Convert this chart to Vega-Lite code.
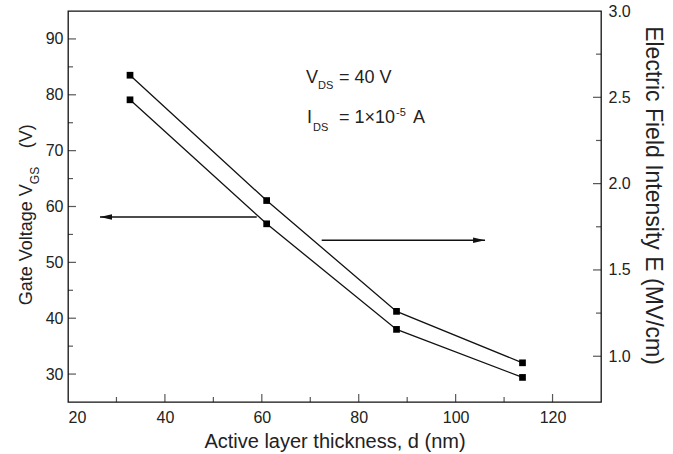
{
  "$schema": "https://vega.github.io/schema/vega-lite/v6.json",
  "width": 533,
  "height": 391,
  "autosize": {"type": "none"},
  "padding": {"left": 68, "top": 11, "right": 72, "bottom": 52},
  "background": "white",
  "config": {
    "font": "Liberation Sans",
    "view": {"stroke": "#111", "strokeWidth": 1.3},
    "axis": {
      "labelFont": "Liberation Sans", "labelFontSize": 16, "labelColor": "#222",
      "titleFont": "Liberation Sans", "titleFontSize": 20, "titleFontWeight": "normal", "titleColor": "#222",
      "ticks": false, "tickSize": 0, "domain": false, "grid": false
    },
    "text": {"font": "Liberation Sans"}
  },
  "datasets": {
    "V": [{"x": 32.8, "y": 79.1}, {"x": 61.0, "y": 56.9}, {"x": 87.8, "y": 38.0}, {"x": 113.8, "y": 29.4}],
    "E": [{"x": 32.8, "y": 2.628}, {"x": 61.0, "y": 1.902}, {"x": 87.8, "y": 1.26}, {"x": 113.8, "y": 0.962}],
    "xMajor": [{"x": 40, "y": 25}, {"x": 60, "y": 25}, {"x": 80, "y": 25}, {"x": 100, "y": 25}, {"x": 120, "y": 25}],
    "xMinor": [{"x": 30, "y": 25}, {"x": 50, "y": 25}, {"x": 70, "y": 25}, {"x": 90, "y": 25}, {"x": 110, "y": 25}],
    "lMajor": [{"x": 20, "y": 30}, {"x": 20, "y": 40}, {"x": 20, "y": 50}, {"x": 20, "y": 60}, {"x": 20, "y": 70}, {"x": 20, "y": 80}, {"x": 20, "y": 90}],
    "lMinor": [{"x": 20, "y": 35}, {"x": 20, "y": 45}, {"x": 20, "y": 55}, {"x": 20, "y": 65}, {"x": 20, "y": 75}, {"x": 20, "y": 85}],
    "rMajor": [{"x": 130, "y": 1.0}, {"x": 130, "y": 1.5}, {"x": 130, "y": 2.0}, {"x": 130, "y": 2.5}],
    "rMinor": [{"x": 130, "y": 1.25}, {"x": 130, "y": 1.75}, {"x": 130, "y": 2.25}, {"x": 130, "y": 2.75}],
    "arrows": [{"x": 26.6, "x2": 58.95, "y": 58.12}, {"x": 72.36, "x2": 106.07, "y": 53.95}],
    "heads": [{"x": 27.84, "y": 58.12, "dir": "left"}, {"x": 104.83, "y": 53.95, "dir": "right"}],
    "annBig": [
      {"x": 69.12, "y": 82.06, "t": "V"},
      {"x": 75.93, "y": 82.06, "t": "= 40 V"},
      {"x": 69.33, "y": 74.9, "t": "I"},
      {"x": 75.93, "y": 74.9, "t": "= 1×10"},
      {"x": 91.2, "y": 74.9, "t": "A"}
    ],
    "annSmall": [
      {"x": 71.6, "y": 80.98, "t": "DS"},
      {"x": 70.56, "y": 73.46, "t": "DS"},
      {"x": 87.7, "y": 76.15, "t": "-5"}
    ],
    "ltitle": [{"x": 12.47, "y": 42.31, "t": "Gate Voltage V"}, {"x": 12.47, "y": 70.42, "t": "(V)"}],
    "ltitleSub": [{"x": 14.01, "y": 64.0, "t": "GS"}]
  },
  "encoding": {
    "x": {
      "field": "x", "type": "quantitative",
      "scale": {"domain": [20, 130], "nice": false, "zero": false},
      "axis": {"values": [20, 40, 60, 80, 100, 120], "title": "Active layer thickness, d (nm)", "labelPadding": 7, "titlePadding": 6}
    }
  },
  "layer": [
    {
      "data": {"name": "V"},
      "mark": {"type": "line", "color": "#111", "strokeWidth": 1.3, "point": {"shape": "square", "size": 45, "filled": true, "color": "#000", "opacity": 1}},
      "encoding": {
        "y": {"field": "y", "type": "quantitative", "scale": {"domain": [25, 95], "nice": false, "zero": false},
          "axis": {"orient": "left", "values": [30, 40, 50, 60, 70, 80, 90], "title": null, "labelPadding": 5}}
      }
    },
    {
      "data": {"name": "E"},
      "mark": {"type": "line", "color": "#111", "strokeWidth": 1.3, "point": {"shape": "square", "size": 45, "filled": true, "color": "#000", "opacity": 1}},
      "encoding": {
        "y": {"field": "y", "type": "quantitative", "scale": {"domain": [0.735, 3.0], "nice": false, "zero": false},
          "axis": {"orient": "right", "values": [1.0, 1.5, 2.0, 2.5, 3.0], "format": ".1f", "title": "Electric Field Intensity E (MV/cm)", "titleAngle": 90, "titleFontSize": 23, "titleY": 184, "labelPadding": 7, "titlePadding": 10}}
      }
    },
    {
      "data": {"name": "xMajor"},
      "mark": {"type": "tick", "orient": "vertical", "size": 16, "thickness": 1.2, "color": "#111", "clip": true},
      "encoding": {"y": {"field": "y", "type": "quantitative", "scale": {"domain": [25, 95], "nice": false, "zero": false}, "axis": null}}
    },
    {
      "data": {"name": "xMinor"},
      "mark": {"type": "tick", "orient": "vertical", "size": 10, "thickness": 1.2, "color": "#111", "clip": true},
      "encoding": {"y": {"field": "y", "type": "quantitative", "scale": {"domain": [25, 95], "nice": false, "zero": false}, "axis": null}}
    },
    {
      "data": {"name": "lMajor"},
      "mark": {"type": "tick", "orient": "horizontal", "size": 16, "thickness": 1.2, "color": "#111", "clip": true},
      "encoding": {"y": {"field": "y", "type": "quantitative", "scale": {"domain": [25, 95], "nice": false, "zero": false}, "axis": null}}
    },
    {
      "data": {"name": "lMinor"},
      "mark": {"type": "tick", "orient": "horizontal", "size": 10, "thickness": 1.2, "color": "#111", "clip": true},
      "encoding": {"y": {"field": "y", "type": "quantitative", "scale": {"domain": [25, 95], "nice": false, "zero": false}, "axis": null}}
    },
    {
      "data": {"name": "rMajor"},
      "mark": {"type": "tick", "orient": "horizontal", "size": 16, "thickness": 1.2, "color": "#111", "clip": true},
      "encoding": {"y": {"field": "y", "type": "quantitative", "scale": {"domain": [0.735, 3.0], "nice": false, "zero": false}, "axis": null}}
    },
    {
      "data": {"name": "rMinor"},
      "mark": {"type": "tick", "orient": "horizontal", "size": 10, "thickness": 1.2, "color": "#111", "clip": true},
      "encoding": {"y": {"field": "y", "type": "quantitative", "scale": {"domain": [0.735, 3.0], "nice": false, "zero": false}, "axis": null}}
    },
    {
      "data": {"name": "arrows"},
      "mark": {"type": "rule", "color": "#111", "strokeWidth": 1.4},
      "encoding": {
        "x2": {"field": "x2"},
        "y": {"field": "y", "type": "quantitative", "scale": {"domain": [25, 95], "nice": false, "zero": false}, "axis": null}
      }
    },
    {
      "data": {"name": "heads"},
      "mark": {"type": "point", "filled": true, "color": "#111", "opacity": 1, "size": 144, "strokeWidth": 0},
      "encoding": {
        "y": {"field": "y", "type": "quantitative", "scale": {"domain": [25, 95], "nice": false, "zero": false}, "axis": null},
        "shape": {"field": "dir", "type": "nominal", "scale": {"domain": ["left", "right"], "range": ["M-1,0L1,-0.45L1,0.45Z", "M1,0L-1,-0.45L-1,0.45Z"]}, "legend": null}
      }
    },
    {
      "data": {"name": "annBig"},
      "mark": {"type": "text", "fontSize": 18, "align": "left", "baseline": "alphabetic", "color": "#222"},
      "encoding": {
        "y": {"field": "y", "type": "quantitative", "scale": {"domain": [25, 95], "nice": false, "zero": false}, "axis": null},
        "text": {"field": "t"}
      }
    },
    {
      "data": {"name": "annSmall"},
      "mark": {"type": "text", "fontSize": 11, "align": "left", "baseline": "alphabetic", "color": "#222"},
      "encoding": {
        "y": {"field": "y", "type": "quantitative", "scale": {"domain": [25, 95], "nice": false, "zero": false}, "axis": null},
        "text": {"field": "t"}
      }
    },
    {
      "data": {"name": "ltitle"},
      "mark": {"type": "text", "fontSize": 18, "align": "left", "baseline": "alphabetic", "angle": 270, "color": "#222"},
      "encoding": {
        "y": {"field": "y", "type": "quantitative", "scale": {"domain": [25, 95], "nice": false, "zero": false}, "axis": null},
        "text": {"field": "t"}
      }
    },
    {
      "data": {"name": "ltitleSub"},
      "mark": {"type": "text", "fontSize": 12, "align": "left", "baseline": "alphabetic", "angle": 270, "color": "#222"},
      "encoding": {
        "y": {"field": "y", "type": "quantitative", "scale": {"domain": [25, 95], "nice": false, "zero": false}, "axis": null},
        "text": {"field": "t"}
      }
    }
  ],
  "resolve": {"scale": {"y": "independent"}, "axis": {"y": "independent"}}
}
